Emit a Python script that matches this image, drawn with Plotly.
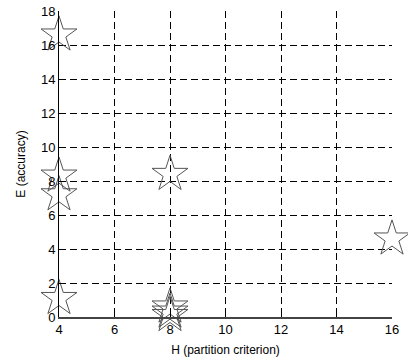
import plotly.graph_objects as go

# Partition criterion H vs. accuracy E
h_values = [4, 4, 4, 4, 8, 8, 8, 8, 16]
e_values = [16.6, 8.3, 7.2, 1.1, 8.4, 0.6, 0.3, 0.1, 4.6]

x_ticks = [4, 6, 8, 10, 12, 14, 16]
y_ticks = [0, 2, 4, 6, 8, 10, 12, 14, 16, 18]

fig = go.Figure(
    go.Scatter(
        x=h_values,
        y=e_values,
        mode="markers",
        marker=dict(symbol="star-open", size=27, color="#555555",
                    line=dict(width=1, color="#555555")),
        cliponaxis=False,
        showlegend=False,
    )
)

font_family = "Liberation Sans, Arial, sans-serif"
axis_font = dict(family=font_family, size=13, color="black")

fig.update_xaxes(
    range=[4, 16], tickvals=x_ticks, ticks="inside", ticklen=4, tickcolor="black",
    showgrid=True, gridcolor="black", griddash="7px,4px", gridwidth=1,
    showline=True, linecolor="#444444", linewidth=1.5, zeroline=False,
    tickfont=axis_font, automargin=False,
    title=dict(text="H (partition criterion)", font=dict(family=font_family, size=12, color="black"), standoff=9),
)
fig.update_yaxes(
    range=[0, 18], tickvals=y_ticks, ticks="inside", ticklen=4, tickcolor="black",
    showgrid=True, gridcolor="black", griddash="7px,4px", gridwidth=1,
    showline=True, linecolor="black", linewidth=1, zeroline=False,
    tickfont=axis_font, automargin=False,
    title=dict(text="E (accuracy)", font=dict(family=font_family, size=12, color="black"), standoff=12),
)

fig.update_layout(
    width=408, height=360,
    margin=dict(l=59, r=16, t=11, b=43),
    paper_bgcolor="white", plot_bgcolor="white",
)

fig.write_html("out.html")
